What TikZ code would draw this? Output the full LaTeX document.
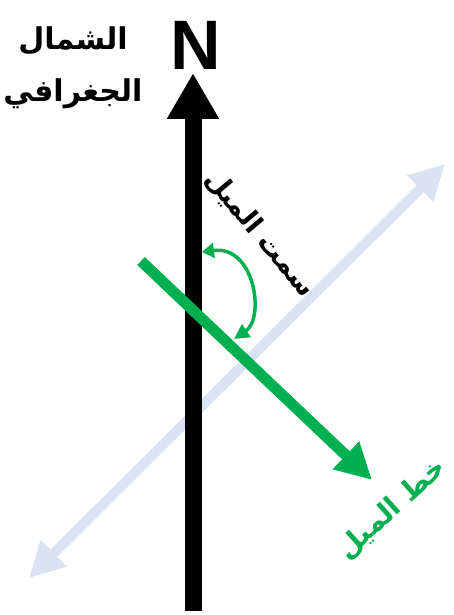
\documentclass[tikz,border=0pt]{standalone}
\usepackage{fontspec}
\setmainfont{Liberation Sans}
\newfontfamily\arabicfont[Script=Arabic]{DejaVu Sans}
\TeXXeTstate=1
\usepackage{tikz}
\usetikzlibrary{arrows.meta, positioning}
\definecolor{cGreen}{HTML}{00B050}
\definecolor{cSky}{HTML}{DAE3F3}
\tikzset{
  artxt/.style={font=\arabicfont\bfseries\fontsize{#1}{#1}\selectfont, inner sep=0pt},
  artxt/.default=28,
  northarrow/.style={-{Triangle[length=46pt, width=49pt]}, line width=17pt, black},
  strikearrow/.style={{Triangle[length=35pt, width=35pt]}-{Triangle[length=35pt, width=35pt]},
    line width=10pt, cSky},
  diparrow/.style={-{Triangle[length=36pt, width=36pt]}, line width=11pt, cGreen},
  anglearrow/.style={{Triangle[length=12pt, width=15pt]}-{Triangle[length=15pt, width=15pt]},
    line width=3.5pt, cGreen},
}
\begin{document}
\begin{tikzpicture}[x=1pt, y=-1pt]
  \useasboundingbox (0,0) rectangle (454,615);

  % End points
  \coordinate (nBot) at (193,611);
  \coordinate (nTip) at (193,73);
  \coordinate (sLow) at (29,578);
  \coordinate (sHigh) at (445,164);
  \coordinate (dStart) at (141,261);
  \coordinate (dTip) at (372,480);
  \coordinate (aTop) at (202,252);
  \coordinate (aLow) at (234,339);

  % Strike line (behind)
  \draw[strikearrow] (sLow) -- (sHigh);

  % Geographic north
  \draw[northarrow] (nBot) -- (nTip);
  \node[font=\bfseries\fontsize{70}{70}\selectfont, inner sep=0pt,
        above=3pt of nTip, xshift=3pt] (nLetter) {N};
  \node[artxt=30, align=center] (geoNorth) at (73,68)
    {\beginR الشمال\endR\\[22pt]\beginR الجغرافي\endR};

  % Dip line
  \draw[diparrow] (dStart) -- (dTip);
  \node[artxt, text=cGreen, rotate=42] (dipLine) at (392,509) {\beginR خط الميل\endR};

  % Dip azimuth
  \draw[anglearrow] (aTop) .. controls (255,245) and (265,318) .. (aLow);
  \node[artxt=27, rotate=-50] (dipAz) at (260,234) {\beginR سمت الميل\endR};

\end{tikzpicture}
\end{document}
